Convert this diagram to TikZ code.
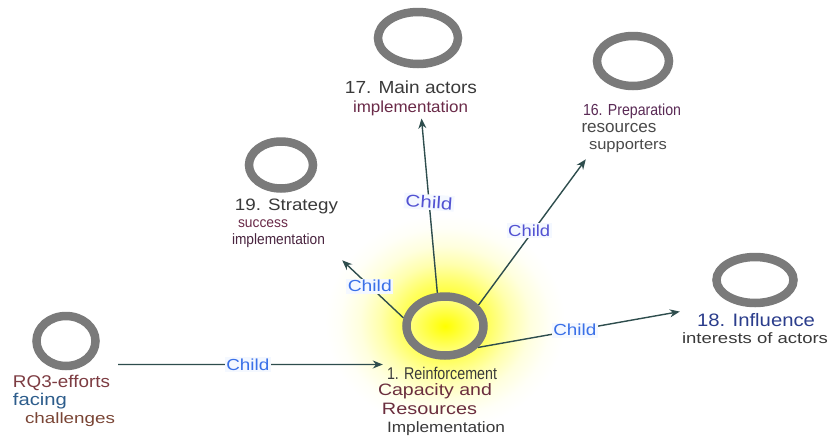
\documentclass[tikz,border=0pt]{standalone}
\usepackage{fontspec}
\setmainfont{Liberation Sans}
\usepackage{graphicx}
\usetikzlibrary{shapes.geometric,arrows.meta}

\definecolor{ringgray}{HTML}{7A7A7A}
\definecolor{edgecol}{HTML}{2E4D4D}
\definecolor{darktext}{HTML}{3A3A3A}
\definecolor{graytext}{HTML}{4A4A4A}
\definecolor{maroonA}{HTML}{7D3C42}
\definecolor{maroonB}{HTML}{6B2E3E}
\definecolor{maroonC}{HTML}{6A2A48}
\definecolor{plum}{HTML}{4A2540}
\definecolor{purpleA}{HTML}{5A2A55}
\definecolor{facingblue}{HTML}{2D5D8C}
\definecolor{brownA}{HTML}{7A4535}
\definecolor{navy}{HTML}{2B3D8C}
\definecolor{childblue}{HTML}{3A70E8}
\definecolor{childviolet}{HTML}{5252D2}
\definecolor{lblbg}{HTML}{F4F8FF}

% one line of text, set at a given size and stretched to a given width
\newcommand\fitline[3]{\fontsize{#1}{#1}\selectfont\resizebox{#2pt}{\height}{#3}}

% soft yellow halo (25bp = edge of the shaded ellipse), white before the edge
\pgfdeclareradialshading{glowshade}{\pgfpoint{0bp}{0bp}}{%
  color(0bp)=(yellow);
  color(5bp)=(yellow!85!white);
  color(9bp)=(yellow!60!white);
  color(13bp)=(yellow!32!white);
  color(17bp)=(yellow!13!white);
  color(21bp)=(yellow!3!white);
  color(24bp)=(white);
  color(50bp)=(white)}

\pgfdeclarelayer{paperlayer}
\pgfdeclarelayer{glowlayer}
\pgfdeclarelayer{edgelayer}
\pgfsetlayers{paperlayer,glowlayer,edgelayer,main}

\tikzset{
  ring/.style={ellipse, draw=ringgray, line width=8.5pt, inner sep=0pt},
  txtline/.style={inner sep=0pt, anchor=base},
  edge/.style={draw=edgecol, line width=1.4pt, -{Stealth[length=10pt,width=8pt]}},
  childlbl/.style={fill=lblbg, inner sep=1.5pt, text=childblue},
}

\begin{document}
\begin{tikzpicture}[x=1pt, y=-1pt]
\useasboundingbox (0,0) rectangle (828,437);
\begin{pgfonlayer}{paperlayer}
  \fill[white] (0,0) rectangle (828,437);
\end{pgfonlayer}

% ---- rings ----
\node[ring, minimum width=77pt, minimum height=59pt,
      inner color=yellow, outer color=yellow!45!white] (c) at (445,326) {};
\node[ring, minimum width=80pt, minimum height=52pt] (r17) at (418,38) {};
\node[ring, minimum width=72pt, minimum height=50pt] (r16) at (633,61) {};
\node[ring, minimum width=64pt, minimum height=47pt] (r19) at (281,165) {};
\node[ring, minimum width=77pt, minimum height=46pt] (r18) at (755,280) {};
\node[ring, minimum width=59pt, minimum height=50pt] (r3)  at (66,341) {};

% ---- glow around the central ring ----
\begin{pgfonlayer}{glowlayer}
  \shade[shading=glowshade] ([yshift=4pt]c.center) ellipse [x radius=125pt, y radius=112pt];
\end{pgfonlayer}

% ---- central concept ----
\node[txtline, text=darktext] (c1) at (442,379) {\fitline{17}{110}{1. Reinforcement}};
\node[txtline, text=maroonB]  (c2) at (435,395) {\fitline{16.5}{114}{Capacity and}};
\node[txtline, text=maroonB]  (c3) at (429.5,414) {\fitline{16.5}{95}{Resources}};
\node[txtline, text=darktext] (c4) at (446,432) {\fitline{15}{118}{Implementation}};

% ---- RQ3 ----
\node[txtline, text=maroonA]    (q1) at (61.5,387) {\fitline{17}{97}{RQ3-efforts}};
\node[txtline, text=facingblue] (q2) at (40,405)   {\fitline{17}{54}{facing}};
\node[txtline, text=brownA]     (q3) at (70,423)   {\fitline{15}{90}{challenges}};

% ---- 17 ----
\node[txtline, text=darktext] (m1) at (411,93)    {\fitline{17.5}{132}{17. Main actors}};
\node[txtline, text=maroonC]  (m2) at (410.5,112) {\fitline{16}{115}{implementation}};

% ---- 16 ----
\node[txtline, text=purpleA]  (p1) at (632,115) {\fitline{16}{98}{16. Preparation}};
\node[txtline, text=graytext] (p2) at (619,132) {\fitline{17}{75}{resources}};
\node[txtline, text=graytext] (p3) at (628,149) {\fitline{15}{78}{supporters}};

% ---- 19 ----
\node[txtline, text=darktext] (s1) at (286.5,210) {\fitline{16.5}{103}{19. Strategy}};
\node[txtline, text=maroonC]  (s2) at (263,227)   {\fitline{14.5}{50}{success}};
\node[txtline, text=plum]     (s3) at (278.5,244) {\fitline{15}{93}{implementation}};

% ---- 18 ----
\node[txtline, text=navy]     (f1) at (756,326) {\fitline{18}{118}{18. Influence}};
\node[txtline, text=darktext] (f2) at (755,343) {\fitline{15}{146}{interests of actors}};

% ---- connectors ----
\begin{pgfonlayer}{edgelayer}
  \draw[edge] ([shift={(8,-10)}]q1.north east) -- ([shift={(-4,-2)}]c1.north west)
    node[childlbl, pos=0.49] {\fitline{16}{43}{Child}};
  \draw[edge] (c.169) -- ([shift={(17,13)}]s3.south east)
    node[childlbl, pos=0.55] {\fitline{16}{44}{Child}};
  \draw[edge] (c.103) -- ([shift={(11,3)}]m2.south)
    node[childlbl, text=childviolet, pos=0.52, rotate=-4] {\fitline{17}{47}{Child}};
  \draw[edge] (c.32) -- ([shift={(-3,7)}]p3.south west)
    node[childlbl, text=childviolet, pos=0.51, xshift=-4pt] {\fitline{16}{42}{Child}};
  \draw[edge] (c.-33) -- ([shift={(-17,-8)}]f1.west)
    node[childlbl, pos=0.48] {\fitline{16}{43}{Child}};
\end{pgfonlayer}
\end{tikzpicture}
\end{document}
